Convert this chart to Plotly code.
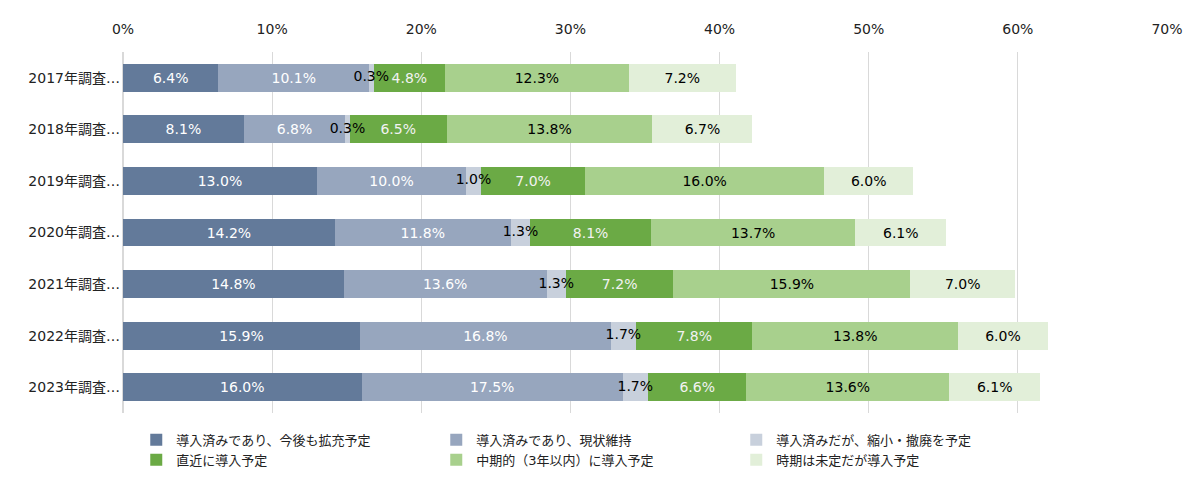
import plotly.graph_objects as go

years = ["2017年調査…", "2018年調査…", "2019年調査…", "2020年調査…",
         "2021年調査…", "2022年調査…", "2023年調査…"]

series_names = [
    "導入済みであり、今後も拡充予定",
    "導入済みであり、現状維持",
    "導入済みだが、縮小・撤廃を予定",
    "直近に導入予定",
    "中期的（3年以内）に導入予定",
    "時期は未定だが導入予定",
]

expand = [6.4, 8.1, 13.0, 14.2, 14.8, 15.9, 16.0]
maintain = [10.1, 6.8, 10.0, 11.8, 13.6, 16.8, 17.5]
reduce = [0.3, 0.3, 1.0, 1.3, 1.3, 1.7, 1.7]
soon = [4.8, 6.5, 7.0, 8.1, 7.2, 7.8, 6.6]
midterm = [12.3, 13.8, 16.0, 13.7, 15.9, 13.8, 13.6]
undecided = [7.2, 6.7, 6.0, 6.1, 7.0, 6.0, 6.1]

values = [expand, maintain, reduce, soon, midterm, undecided]
bar_colors = ["#637A9A", "#97A6BE", "#C8D0DC", "#6BAA45", "#A8D08D", "#E2EFD9"]
text_colors = ["white", "white", "black", "#F2F2F2", "black", "black"]

font_family = "DejaVu Sans, Noto Sans CJK JP, sans-serif"

fig = go.Figure()
for i, (name, vals, col, tcol) in enumerate(zip(series_names, values, bar_colors, text_colors)):
    # the thin "縮小・撤廃" bar gets its label from a text layer on top
    thin = i == 2
    fig.add_trace(go.Bar(
        name=name,
        y=years,
        x=vals,
        orientation="h",
        marker=dict(color=col, line=dict(width=0)),
        texttemplate=None if thin else "%{x:.1f}%",
        textposition="none" if thin else "inside",
        insidetextanchor="middle",
        textangle=0,
        constraintext="none",
        textfont=dict(color=tcol, size=14, family=font_family),
        hovertemplate="%{y}: %{x:.1f}%<extra>" + name + "</extra>",
    ))

# labels for the thin segment, drawn above the neighbouring bars
mid = [a + b + c / 2 for a, b, c in zip(expand, maintain, reduce)]
fig.add_trace(go.Scatter(
    x=mid,
    y=years,
    mode="text",
    text=[f"{v:.1f}%" for v in reduce],
    textposition="middle center",
    textfont=dict(color="black", size=14, family=font_family),
    showlegend=False,
    hoverinfo="skip",
))

fig.update_layout(
    barmode="stack",
    bargap=0.46,
    width=1200,
    height=492,
    margin=dict(l=115, r=41, t=44, b=87),
    plot_bgcolor="white",
    paper_bgcolor="white",
    font=dict(family=font_family, size=13, color="#222222"),
    xaxis=dict(
        side="top",
        range=[0, 70],
        dtick=10,
        ticksuffix="%",
        showgrid=True,
        gridcolor="#D9D9D9",
        gridwidth=1,
        zeroline=True,
        zerolinecolor="#D9D9D9",
        showline=False,
        ticks="",
        ticklabelstandoff=14,
        tickfont=dict(size=14, color="#222222"),
        automargin=False,
        fixedrange=True,
    ),
    yaxis=dict(
        autorange="reversed",
        showgrid=False,
        ticks="",
        ticklabelstandoff=2,
        tickfont=dict(size=14, color="#222222"),
        automargin=False,
    ),
    legend=dict(
        orientation="h",
        x=0.0127,
        xanchor="left",
        y=-0.033,
        yanchor="top",
        entrywidth=255,
        entrywidthmode="pixels",
        itemwidth=30,
        font=dict(size=13, color="#222222"),
        traceorder="normal",
    ),
)

fig.write_html("out.html")
